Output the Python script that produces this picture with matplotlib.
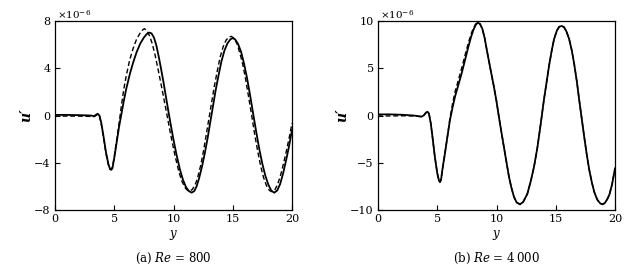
import matplotlib
matplotlib.use('Agg')
import matplotlib.pyplot as plt

# (a) Re = 800, solid curve
y_a_solid = [0, 1, 2, 3, 3.3, 3.45, 3.6, 3.75, 3.9, 4.1, 4.3, 4.5, 4.65, 4.75, 4.85,
             5.0, 5.2, 5.4, 5.6, 5.8, 6.0, 6.33, 6.6, 6.9, 7.2, 7.5, 7.75, 7.96,
             8.15, 8.35, 8.55, 8.75, 8.95, 9.15, 9.35, 9.57, 9.78, 9.99, 10.25, 10.55,
             10.8, 11.05, 11.3, 11.53, 11.75, 11.95, 12.15, 12.4, 12.66, 12.9, 13.08,
             13.3, 13.55, 13.8, 14.05, 14.3, 14.55, 14.8, 15.0, 15.2, 15.45, 15.7,
             15.95, 16.2, 16.45, 16.73, 17.0, 17.25, 17.5, 17.75, 18.0, 18.25, 18.5,
             18.75, 19.0, 19.25, 19.5, 19.75, 20.0]
u_a_solid = [0.05, 0.05, 0.03, 0.0, -0.05, 0.05, 0.15, 0.0, -0.6, -1.8, -3.1, -4.1, -4.55,
             -4.6, -4.45, -3.6, -2.3, -1.0, 0.1, 1.2, 2.2, 3.57, 4.5, 5.4, 6.1, 6.6, 6.9,
             7.02, 6.95, 6.6, 5.95, 5.0, 3.95, 2.85, 1.65, 0.35, -0.85, -2.0, -3.3, -4.6,
             -5.45, -6.05, -6.4, -6.53, -6.4, -6.0, -5.35, -4.35, -3.1, -1.8, -0.7,
             0.6, 2.1, 3.4, 4.6, 5.5, 6.1, 6.45, 6.55, 6.45, 6.05, 5.4, 4.4, 3.2, 1.8,
             0.1, -1.5, -2.9, -4.1, -5.1, -5.85, -6.35, -6.54, -6.35, -5.8, -4.9, -3.8,
             -2.6, -1.23]

# (a) Re = 800, dashed curve
y_a_dash = [0, 1, 2, 3, 3.3, 3.45, 3.6, 3.75, 3.9, 4.1, 4.3, 4.5, 4.65, 4.75, 4.85,
            5.0, 5.2, 5.4, 5.6, 5.8, 6.0, 6.3, 6.6, 6.9, 7.2, 7.4, 7.55, 7.75, 8.0,
            8.2, 8.45, 8.7, 9.0, 9.25, 9.45, 9.7, 9.9, 10.15, 10.45, 10.7, 11.0, 11.2,
            11.38, 11.6, 11.85, 12.0, 12.3, 12.55, 12.8, 13.0, 13.2, 13.45, 13.7,
            13.95, 14.2, 14.45, 14.7, 14.88, 15.1, 15.35, 15.6, 15.85, 16.1, 16.35,
            16.6, 16.85, 17.1, 17.35, 17.6, 17.85, 18.1, 18.3, 18.55, 18.8, 19.05,
            19.3, 19.55, 19.8, 20.0]
u_a_dash = [-0.05, -0.05, -0.05, -0.08, -0.1, 0.0, 0.1, -0.05, -0.7, -1.9, -3.2, -4.15,
            -4.55, -4.55, -4.35, -3.5, -2.1, -0.7, 0.8, 2.2, 3.3, 4.7, 5.7, 6.5, 7.0,
            7.25, 7.35, 7.2, 6.7, 6.1, 5.1, 3.9, 2.4, 1.1, 0.05, -1.3, -2.3, -3.5,
            -4.75, -5.55, -6.15, -6.35, -6.4, -6.25, -5.8, -5.4, -4.2, -2.9, -1.4, -0.2,
            1.0, 2.5, 3.8, 5.0, 5.85, 6.4, 6.65, 6.7, 6.55, 6.1, 5.3, 4.3, 3.0, 1.5,
            0.0, -1.6, -3.0, -4.25, -5.25, -5.95, -6.35, -6.45, -6.3, -5.8, -5.0,
            -4.0, -2.9, -1.7, -0.65]

# (b) Re = 4000, solid curve
y_b_solid = [0, 1, 2, 3, 3.67, 3.85, 4.05, 4.18, 4.3, 4.45, 4.6, 4.8, 5.0, 5.15, 5.23,
             5.32, 5.45, 5.65, 5.85, 6.07, 6.3, 6.5, 6.75, 7.06, 7.35, 7.63, 7.85, 8.05,
             8.25, 8.42, 8.6, 8.8, 9.0, 9.21, 9.5, 9.78, 10.0, 10.2, 10.42, 10.62,
             10.85, 11.05, 11.25, 11.47, 11.7, 11.98, 12.25, 12.6, 12.9, 13.17, 13.45,
             13.73, 14.0, 14.2, 14.44, 14.65, 14.86, 15.1, 15.3, 15.51, 15.7, 15.9,
             16.13, 16.35, 16.55, 16.78, 16.98, 17.2, 17.4, 17.6, 17.83, 18.05, 18.25,
             18.5, 18.75, 18.96, 19.15, 19.35, 19.52, 19.75, 20.0]
u_b_solid = [0.12, 0.12, 0.08, 0.0, -0.12, 0.0, 0.3, 0.4, 0.2, -0.8, -2.3, -4.4, -6.1,
             -6.9, -7.05, -6.8, -5.6, -4.0, -2.3, -0.5, 0.9, 2.0, 3.1, 4.46, 5.9, 7.3,
             8.3, 9.05, 9.6, 9.82, 9.7, 9.2, 8.2, 6.75, 4.85, 3.05, 1.5, -0.12, -1.8,
             -3.3, -5.0, -6.47, -7.6, -8.6, -9.2, -9.4, -9.15, -8.3, -6.9, -5.4, -3.4,
             -0.9, 1.64, 3.3, 5.3, 6.8, 8.1, 9.0, 9.4, 9.47, 9.35, 8.9, 8.1, 6.9, 5.5,
             3.6, 1.64, -0.4, -2.24, -4.0, -5.77, -7.1, -8.1, -8.9, -9.3, -9.4, -9.25,
             -8.85, -8.4, -7.3, -5.6]

# (b) Re = 4000, dashed curve
y_b_dash = [0, 1, 2, 3, 3.67, 3.85, 4.05, 4.18, 4.3, 4.45, 4.6, 4.8, 5.0, 5.15, 5.23,
            5.32, 5.45, 5.65, 5.85, 6.07, 6.3, 6.5, 6.75, 7.06, 7.35, 7.63, 7.85, 8.05,
            8.25, 8.42, 8.6, 8.8, 9.0, 9.21, 9.5, 9.78, 10.0, 10.2, 10.42, 10.62,
            10.85, 11.05, 11.25, 11.47, 11.7, 11.98, 12.25, 12.6, 12.9, 13.17, 13.45,
            13.73, 14.0, 14.2, 14.44, 14.65, 14.86, 15.1, 15.3, 15.51, 15.7, 15.9,
            16.13, 16.35, 16.55, 16.78, 16.98, 17.2, 17.4, 17.6, 17.83, 18.05, 18.25,
            18.5, 18.75, 18.96, 19.15, 19.35, 19.52, 19.75, 20.0]
u_b_dash = [-0.05, -0.05, -0.03, -0.05, -0.12, 0.0, 0.3, 0.4, 0.2, -0.8, -2.3, -4.4,
            -6.1, -6.9, -7.05, -6.8, -5.6, -4.0, -2.3, -0.3, 1.3, 2.5, 3.6, 5.0, 6.4,
            7.7, 8.6, 9.25, 9.7, 9.82, 9.7, 9.2, 8.2, 6.75, 4.85, 3.05, 1.5, -0.12,
            -1.8, -3.3, -5.0, -6.47, -7.6, -8.6, -9.2, -9.4, -9.15, -8.3, -6.9, -5.4,
            -3.4, -0.9, 1.64, 3.3, 5.3, 6.8, 8.1, 9.0, 9.4, 9.47, 9.35, 8.9, 8.1, 6.9,
            5.5, 3.6, 1.64, -0.4, -2.24, -4.0, -5.77, -7.1, -8.1, -8.9, -9.3, -9.4,
            -9.25, -8.85, -8.4, -7.3, -5.6]

panels = [
    (y_a_solid, u_a_solid, y_a_dash, u_a_dash, (-8, 8), [-8, -4, 0, 4, 8],
     '(a) $Re$ = 800'),
    (y_b_solid, u_b_solid, y_b_dash, u_b_dash, (-10, 10), [-10, -5, 0, 5, 10],
     '(b) $Re$ = 4\u2009000'),
]

plt.rcParams['font.family'] = ['DejaVu Serif']
plt.rcParams['mathtext.fontset'] = 'dejavuserif'
plt.rcParams['font.size'] = 7.5

fig = plt.figure(figsize=(6.4, 2.72), dpi=100)
lefts = [55 / 640, 378 / 640]

for left, (ys, us, yd, ud, ylim, yticks, caption) in zip(lefts, panels):
    ax = fig.add_axes([left, 1 - 210 / 272, 237 / 640, 189 / 272])
    ax.plot(ys, us, color='black', lw=1.3, solid_joinstyle='round')
    ax.plot(yd, ud, color='black', lw=1.0, ls=(0, (3.5, 2)))
    ax.set_xlim(0, 20)
    ax.set_ylim(*ylim)
    ax.set_xticks([0, 5, 10, 15, 20])
    ax.set_yticks(yticks)
    ax.tick_params(direction='in', length=3.5, width=0.8, top=False, right=False,
                   labelsize=8, pad=3)
    for sp in ax.spines.values():
        sp.set_linewidth(0.9)
    ax.set_xlabel('$y$', fontsize=8.5, labelpad=3)
    ax.set_ylabel("u\u2032", fontsize=10, fontstyle='italic', fontweight='bold',
                  labelpad=1)
    ax.text(0.01, 1.0, r'$\times10^{-6}$', transform=ax.transAxes, fontsize=7.5,
            ha='left', va='bottom')
    ax.text(0.5, -0.255, caption, transform=ax.transAxes, fontsize=8.5,
            ha='center', va='center')

fig.savefig('out.png', dpi=100)
